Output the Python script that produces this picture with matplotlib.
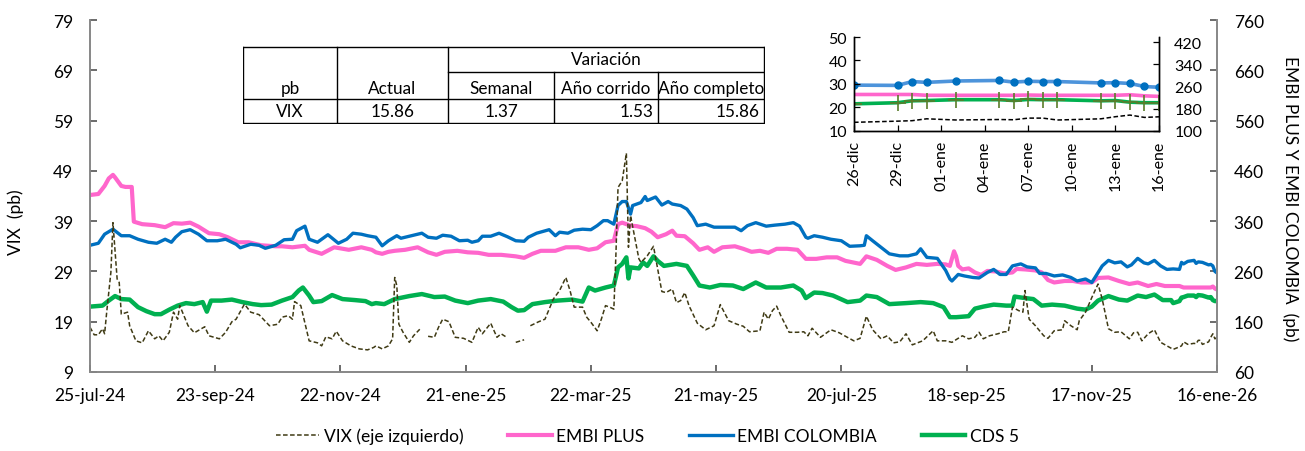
import matplotlib
matplotlib.use('Agg')
import matplotlib.pyplot as plt
from matplotlib.lines import Line2D
import numpy as np
import pandas as pd

plt.rcParams['font.family'] = ['Lato', 'DejaVu Sans']

start = pd.Timestamp('2024-07-25')
end = pd.Timestamp('2026-01-16')

# días desde 25-jul-24 / valor
vix_day = [0, 2, 4, 6, 7, 8, 10, 11, 13, 14, 15, 18, 19, 22, 25, 28, 31, 33, 35, 38,
           40, 42, 43, 47, 50, 55, 57, 62, 65, 68, 70, 74, 77, 81, 86, 90, 92, 95, 97, 98,
           101, 105, 109, 111, 113, 116, 118, 121, 125, 129, 133, 136, 137, 140, 143, 145, 146, 147, 148, 150,
           153, 155, 158, 160, 162, 165, 167, 169, 172, 175, 179, 183, 186, 188, 192, 195, 197, 200, 202, 204,
           208, 210, 211, 215, 218, 222, 225, 228, 230, 232, 236, 238, 240, 243, 245, 247, 249, 251, 252, 253,
           255, 257, 258, 259, 263, 264, 267, 270, 274, 276, 279, 281, 283, 285, 287, 291, 295, 299, 302, 306,
           310, 313, 316, 321, 323, 325, 327, 329, 331, 335, 339, 342, 344, 346, 350, 355, 359, 362, 366, 369,
           372, 375, 379, 382, 385, 388, 391, 394, 399, 404, 406, 410, 413, 416, 418, 421, 424, 426, 428, 431,
           435, 438, 440, 442, 445, 447, 448, 450, 453, 457, 459, 462, 466, 467, 470, 473, 474, 477, 480, 483,
           485, 488, 491, 494, 498, 500, 502, 504, 507, 510, 513, 516, 519, 522, 523, 524, 526, 529, 530, 531,
           532, 533, 536, 537, 538, 539, 540]
vix_val = [17.9, 16.4, 16.4, 17.6, 16.6, 20.9, 28.8, 38.7, 27.5, 26.8, 20.5, 20.9, 18.2, 15.2, 14.8, 17.2, 15.6, 16.2, 15.2, 16.9,
           20.9, 19.5, 22.2, 18.2, 16.8, 18.0, 16.2, 15.6, 16.9, 19.0, 19.5, 22.5, 20.9, 20.4, 18.2, 18.5, 19.9, 20.2, 19.5, 23.0,
           22.2, 15.2, 14.8, 14.2, 16.0, 15.6, 17.1, 15.2, 14.2, 13.6, 13.4, 13.9, 14.2, 13.6, 14.2, 15.6, 27.8, 26.2, 18.5, 16.9,
           14.9, 16.2, 17.5, np.nan, 16.1, 15.9, 17.9, 19.5, 19.0, 15.9, 15.7, 14.9, 17.9, 16.6, 18.7, 15.9, 16.6, 15.8, np.nan, 14.9,
           15.4, np.nan, 18.2, 19.0, 19.5, 23.5, 25.2, 27.8, 25.2, 21.9, 21.9, 19.9, 18.9, 17.2, 19.5, 22.2, 21.9, 21.5, 32.5, 45.7,
           47.0, 52.5, 33.8, 40.1, 31.5, 30.8, 32.1, 34.0, 25.0, 24.8, 25.5, 22.8, 23.2, 24.8, 22.2, 18.7, 17.4, 18.2, 22.4, 19.2,
           18.5, 18.1, 17.0, 17.2, 20.9, 19.5, 21.2, 22.1, 20.2, 16.9, 16.9, 17.0, 16.2, 17.7, 15.9, 17.4, 16.8, 16.1, 15.2, 15.7,
           20.1, 17.4, 15.6, 16.2, 14.8, 15.0, 16.6, 14.4, 15.2, 17.2, 15.2, 15.2, 14.9, 15.7, 16.2, 15.6, 15.9, 16.9, 15.6, 16.2,
           16.6, 17.0, 17.0, 21.9, 21.2, 20.9, 25.2, 19.5, 18.2, 16.2, 15.7, 17.2, 17.4, 19.2, 18.2, 17.4, 19.2, 20.9, 23.8, 26.5,
           23.5, 17.6, 16.9, 17.0, 15.6, 16.8, 16.9, 15.2, 16.6, 17.4, 14.9, 14.2, 13.5, 14.0, 14.2, 15.0, 14.5, 14.7, 14.6, 15.3,
           15.3, 14.49, 15.0, 15.9, 16.6, 15.6, 15.86]

plus_day = [0, 4, 7, 9, 11, 12, 15, 17, 20, 21, 25, 31, 36, 40, 44, 48, 52, 57, 62, 66,
            71, 76, 82, 89, 92, 97, 103, 105, 111, 117, 124, 130, 135, 137, 140, 143, 146, 151, 157, 162,
            166, 170, 176, 181, 186, 191, 197, 204, 208, 212, 216, 223, 228, 234, 239, 243, 247, 251, 253, 255,
            259, 262, 266, 269, 272, 276, 279, 281, 285, 289, 292, 296, 299, 303, 309, 313, 317, 321, 325, 329,
            334, 339, 343, 348, 353, 358, 362, 369, 372, 377, 382, 386, 391, 396, 401, 406, 410, 412, 414, 415,
            416, 418, 421, 424, 427, 430, 434, 438, 442, 444, 448, 453, 456, 459, 462, 467, 471, 475, 480, 483,
            488, 493, 498, 502, 507, 511, 515, 519, 522, 524, 529, 533, 537, 538, 539, 540]
plus_val = [412, 414, 430, 445, 452, 447, 430, 428, 428, 359, 354, 352, 348, 356, 355, 357, 349, 336, 334, 328,
            318, 318, 312, 310, 310, 308, 311, 303, 295, 308, 303, 308, 303, 298, 295, 299, 301, 303, 308, 298,
            293, 299, 301, 298, 297, 293, 293, 290, 287, 295, 301, 301, 308, 308, 303, 306, 318, 321, 354, 357,
            351, 350, 346, 339, 328, 334, 341, 331, 330, 316, 303, 308, 299, 308, 310, 305, 299, 301, 297, 305,
            305, 303, 285, 285, 288, 288, 281, 275, 290, 283, 271, 263, 268, 275, 273, 275, 274, 271, 300, 290,
            271, 264, 266, 258, 253, 261, 260, 256, 258, 265, 264, 262, 258, 243, 238, 241, 241, 238, 238, 247,
            248, 241, 235, 238, 231, 235, 231, 231, 231, 228, 228, 228, 228, 230, 226, 224]

col_day = [0, 4, 7, 11, 15, 19, 23, 28, 32, 36, 39, 41, 44, 48, 52, 56, 61, 65, 70, 72,
           77, 81, 84, 89, 93, 97, 99, 103, 105, 109, 114, 119, 123, 126, 130, 133, 137, 140, 143, 147,
           149, 154, 159, 162, 166, 169, 173, 177, 181, 183, 186, 188, 192, 196, 200, 204, 208, 210, 214, 220,
           223, 225, 229, 232, 236, 240, 243, 246, 248, 251, 253, 255, 257, 259, 260, 264, 266, 267, 271, 274,
           277, 279, 283, 286, 289, 291, 295, 299, 305, 309, 312, 315, 319, 324, 328, 333, 337, 340, 343, 344,
           347, 351, 355, 360, 364, 369, 371, 372, 375, 379, 383, 388, 392, 396, 398, 401, 406, 410, 412, 413,
           416, 419, 423, 426, 430, 433, 436, 439, 442, 446, 449, 453, 455, 458, 462, 466, 470, 473, 477, 480,
           482, 485, 488, 491, 494, 497, 499, 502, 505, 507, 510, 513, 516, 519, 522, 523, 524, 526, 529, 530,
           531, 533, 536, 537, 538, 539, 540]
col_val = [312, 316, 334, 344, 331, 331, 324, 318, 316, 324, 318, 328, 339, 343, 334, 321, 321, 324, 314, 307,
           314, 312, 306, 312, 323, 324, 341, 350, 324, 318, 333, 316, 324, 336, 334, 331, 328, 311, 321, 331,
           326, 331, 336, 328, 326, 332, 330, 321, 322, 318, 321, 330, 330, 336, 329, 321, 320, 328, 336, 343,
           331, 338, 336, 342, 344, 343, 351, 361, 361, 354, 391, 399, 399, 374, 391, 397, 409, 401, 408, 392,
           399, 394, 391, 384, 367, 351, 354, 348, 348, 348, 341, 351, 357, 350, 352, 354, 357, 350, 328, 326,
           331, 328, 324, 321, 310, 311, 312, 331, 321, 308, 295, 291, 291, 295, 305, 288, 286, 262, 245, 241,
           254, 251, 248, 247, 258, 264, 254, 254, 271, 275, 269, 267, 256, 256, 251, 253, 248, 241, 245, 238,
           251, 271, 282, 277, 279, 269, 273, 286, 277, 275, 282, 271, 264, 265, 264, 278, 275, 280, 282, 276,
           279, 278, 273, 274, 271, 260, 257]

cds_day = [0, 6, 9, 12, 15, 19, 23, 27, 31, 34, 38, 42, 46, 50, 54, 56, 58, 63, 68, 73,
           78, 82, 87, 92, 97, 100, 102, 105, 107, 111, 116, 121, 127, 132, 135, 137, 141, 146, 153, 159,
           165, 170, 175, 181, 186, 192, 198, 202, 205, 208, 212, 218, 224, 231, 236, 239, 242, 247, 251, 253,
           255, 257, 258, 259, 263, 265, 267, 270, 272, 275, 281, 286, 289, 292, 297, 302, 308, 313, 319, 324,
           331, 337, 341, 343, 347, 351, 356, 363, 369, 372, 377, 383, 391, 398, 404, 409, 412, 415, 421, 424,
           428, 433, 439, 442, 443, 448, 452, 456, 461, 467, 473, 477, 480, 483, 488, 493, 497, 502, 506, 510,
           514, 518, 519, 522, 523, 524, 526, 529, 530, 531, 533, 536, 537, 538, 539, 540]
cds_val = [190, 192, 202, 211, 205, 204, 189, 181, 175, 175, 184, 192, 197, 195, 199, 180, 202, 202, 204, 199,
           195, 193, 194, 202, 209, 222, 228, 212, 199, 201, 213, 205, 203, 201, 195, 197, 195, 205, 211, 215,
           209, 210, 202, 197, 202, 205, 200, 189, 182, 183, 195, 199, 202, 204, 200, 228, 222, 228, 232, 268,
           275, 288, 246, 268, 266, 278, 271, 290, 281, 271, 275, 271, 252, 232, 228, 233, 232, 225, 238, 228,
           228, 232, 222, 207, 218, 217, 212, 199, 202, 212, 209, 195, 197, 199, 197, 189, 169, 169, 171, 186,
           190, 194, 192, 192, 210, 207, 205, 192, 194, 192, 186, 184, 190, 202, 211, 204, 202, 212, 209, 214,
           203, 203, 197, 201, 208, 209, 212, 212, 209, 213, 212, 208, 209, 203, 201, 201]

xtick_dates = ['2024-07-25', '2024-09-23', '2024-11-22', '2025-01-21', '2025-03-22',
               '2025-05-21', '2025-07-20', '2025-09-18', '2025-11-17', '2026-01-16']
xtick_labels = ['25-jul-24', '23-sep-24', '22-nov-24', '21-ene-25', '22-mar-25',
                '21-may-25', '20-jul-25', '18-sep-25', '17-nov-25', '16-ene-26']

# recuadro: últimas semanas
ins_dates = ['2025-12-26', '2025-12-29', '2025-12-30', '2025-12-31', '2026-01-02', '2026-01-05',
             '2026-01-06', '2026-01-07', '2026-01-08', '2026-01-09', '2026-01-12', '2026-01-13',
             '2026-01-14', '2026-01-15', '2026-01-16']
ins_vix = [13.5, 14.0, 14.2, 15.0, 14.5, 14.7, 14.6, 15.3, 15.3, 14.49, 15.0, 15.9, 16.6, 15.6, 15.86]
ins_plus = [231, 231, 231, 228, 228, 228, 228, 229, 228, 228, 228, 228, 230, 226, 224]
ins_col = [265, 264, 278, 275, 280, 282, 276, 279, 278, 278, 273, 274, 271, 260, 257]
ins_cds = [197, 201, 208, 209, 212, 212, 209, 213, 212, 212, 208, 209, 203, 201, 201]
ins_tick_dates = ['2025-12-26', '2025-12-29', '2026-01-01', '2026-01-04', '2026-01-07',
                  '2026-01-10', '2026-01-13', '2026-01-16']
ins_tick_labels = ['26-dic', '29-dic', '01-ene', '04-ene', '07-ene', '10-ene', '13-ene', '16-ene']

# tabla
tab_head = ['pb', 'Actual', 'Semanal', 'Año corrido', 'Año completo']
tab_row = ['VIX', '15.86', '1.37', '1.53', '15.86']

C_PLUS = '#FF66CC'
C_COL = '#0070C0'
C_CDS = '#00B050'
C_VIX = '#3F3A14'
SPINE = '#898989'
FS = 12.5


def to_dates(days):
    return start + pd.to_timedelta(np.array(days), unit='D')


W, H = 1305, 452
fig = plt.figure(figsize=(W / 100, H / 100), dpi=100)

ax = fig.add_axes([90 / W, 1 - 373 / H, (1217 - 90) / W, (373 - 21) / H])
ax2 = ax.twinx()

ax2.plot(to_dates(plus_day), plus_val, color=C_PLUS, lw=3.0, solid_joinstyle='round')
ax2.plot(to_dates(col_day), col_val, color=C_COL, lw=2.4, solid_joinstyle='round')
ax2.plot(to_dates(cds_day), cds_val, color=C_CDS, lw=3.2, solid_joinstyle='round')
ax.plot(to_dates(vix_day), vix_val, color=C_VIX, lw=1.1, dashes=(3, 1.6))
ax.set_zorder(ax2.get_zorder() + 1)
ax.patch.set_visible(False)

ax.set_xlim(start, end)
ax.set_ylim(9, 79)
ax.set_yticks(np.arange(9, 80, 10))
ax2.set_ylim(60, 760)
ax2.set_yticks(np.arange(60, 761, 100))
ax.set_xticks(pd.to_datetime(xtick_dates))
ax.set_xticklabels(xtick_labels)

for a in (ax, ax2):
    for s in a.spines.values():
        s.set_color(SPINE)
        s.set_linewidth(1.3)
    a.spines['top'].set_visible(False)
    a.tick_params(direction='in', length=5, width=1.1, color='#444444', labelsize=FS, pad=12)
ax.tick_params(axis='x', pad=11)

fig.text(16 / W, 1 - 222 / H, 'VIX  (pb)', rotation=90, ha='center', va='center', fontsize=FS)
fig.text(1290 / W, 1 - 199 / H, 'EMBI PLUS Y EMBI COLOMBIA  (pb)', rotation=-90,
         ha='center', va='center', fontsize=FS)

# recuadro
ia = fig.add_axes([854 / W, 1 - 131.5 / H, (1159 - 854) / W, (131.5 - 38) / H])
ib = ia.twinx()
idates = pd.to_datetime(ins_dates)
ib.plot(idates, ins_plus, color=C_PLUS, lw=2.6)
ib.plot(idates, ins_col, color='#4D94DB', lw=2.6, marker='o', ms=5, mfc=C_COL, mec=C_COL)
ib.plot(idates, ins_cds, color=C_CDS, lw=2.6, marker='+', ms=11, mew=1.2, mec='#5A7D2A')
ia.plot(idates, ins_vix, color='black', lw=1.1, dashes=(3, 1.6))
ia.set_zorder(ib.get_zorder() + 1)
ia.patch.set_visible(False)
ia.set_xlim(idates[0], idates[-1])
ia.set_ylim(10, 50)
ia.set_yticks(np.arange(10, 51, 10))
ib.set_ylim(100, 440)
ib.set_yticks(np.arange(100, 421, 80))
ia.set_xticks(pd.to_datetime(ins_tick_dates))
ia.set_xticklabels(ins_tick_labels, rotation=90)
for a in (ia, ib):
    for s in a.spines.values():
        s.set_color('black')
        s.set_linewidth(1.0)
    a.spines['top'].set_visible(False)
    a.tick_params(direction='in', length=4, width=0.9, labelsize=11.5)
ia.tick_params(axis='y', pad=5)
ia.tick_params(axis='x', pad=7)
ib.tick_params(axis='y', pad=11)

# tabla
tx = fig.add_axes([243 / W, 1 - 125 / H, (765 - 243) / W, (125 - 47) / H])
tx.set_xlim(243, 765)
tx.set_ylim(125, 47)
tx.axis('off')
cols = [243, 337, 448, 554, 658, 764]
rows = [47.6, 72.7, 99.6, 124.4]
lk = dict(color='black', lw=1.0, solid_capstyle='projecting')
for yy in (rows[0], rows[2], rows[3]):
    tx.plot([cols[0], cols[-1]], [yy, yy], **lk)
tx.plot([cols[2], cols[-1]], [rows[1], rows[1]], **lk)
for xx in (cols[0], cols[1], cols[2], cols[-1]):
    tx.plot([xx, xx], [rows[0], rows[3]], **lk)
for xx in (cols[3], cols[4]):
    tx.plot([xx, xx], [rows[1], rows[3]], **lk)
TFS = 12.3
tx.text((cols[2] + cols[-1]) / 2, (rows[0] + rows[1]) / 2, 'Variación', ha='center', va='center', fontsize=TFS)
for i, t in enumerate(tab_head):
    tx.text((cols[i] + cols[i + 1]) / 2, (rows[1] + rows[2]) / 2 + 3, t, ha='center', va='center', fontsize=TFS)
for i, t in enumerate(tab_row):
    if i >= 3:
        tx.text(cols[i + 1] - 5, (rows[2] + rows[3]) / 2, t, ha='right', va='center', fontsize=TFS)
    else:
        tx.text((cols[i] + cols[i + 1]) / 2, (rows[2] + rows[3]) / 2, t, ha='center', va='center', fontsize=TFS)

handles = [Line2D([], [], color=C_VIX, lw=1.1, dashes=(3, 1.6)),
           Line2D([], [], color=C_PLUS, lw=3.0),
           Line2D([], [], color=C_COL, lw=2.4),
           Line2D([], [], color=C_CDS, lw=3.2)]
labels = ['VIX (eje izquierdo)', 'EMBI PLUS', 'EMBI COLOMBIA', 'CDS 5']
fig.legend(handles, labels, loc='center', bbox_to_anchor=(0.496, 0.033), ncol=4, frameon=False,
           fontsize=FS, handlelength=2.5, columnspacing=2.6, handletextpad=0.25)

fig.savefig('out.png', dpi=100)
